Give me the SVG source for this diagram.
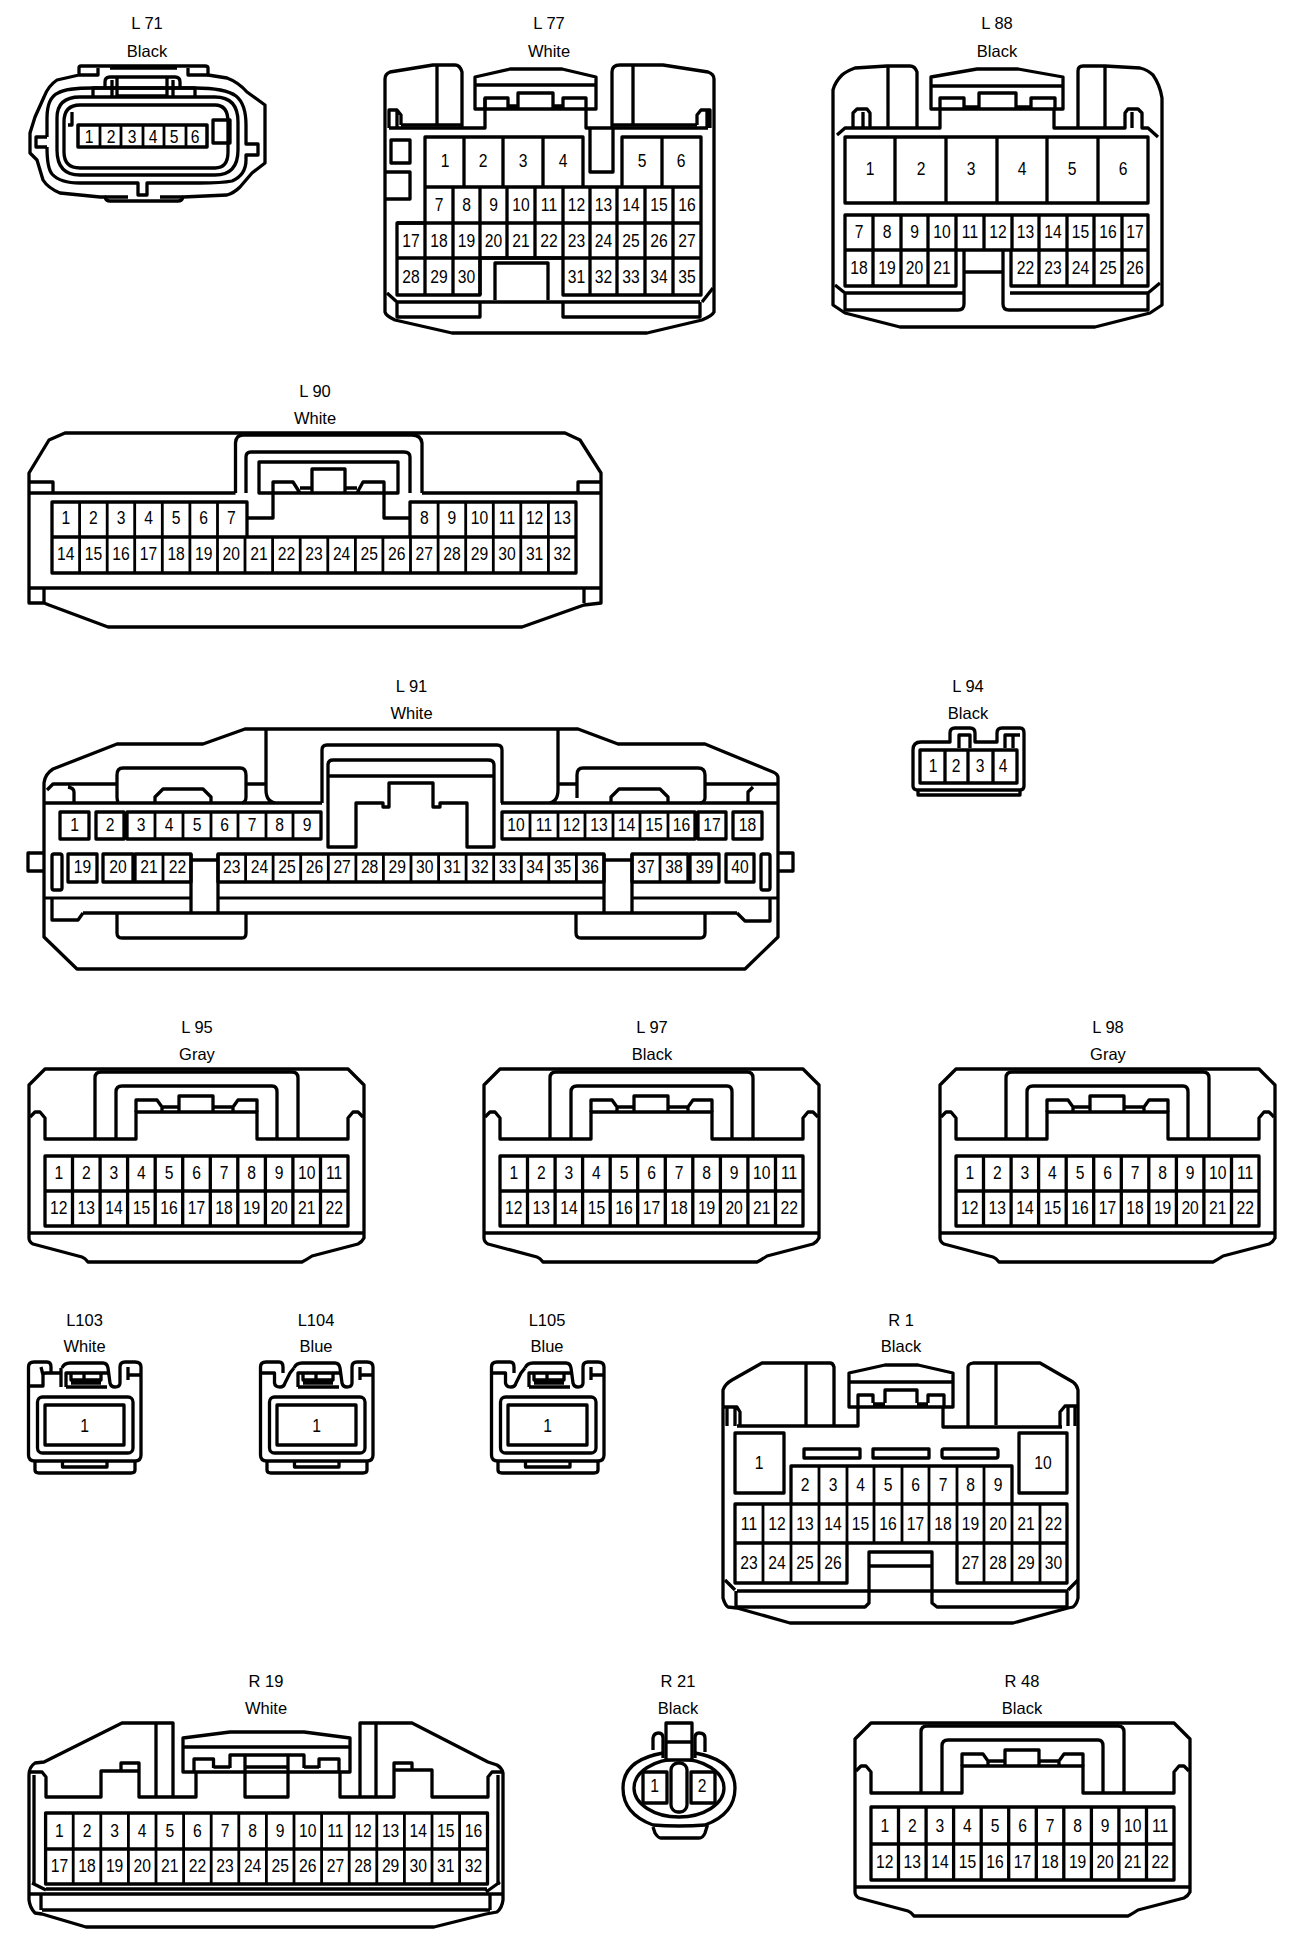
<svg xmlns="http://www.w3.org/2000/svg" width="1312" height="1946" viewBox="0 0 1312 1946">
<style>
.s path,.s rect,.s ellipse,path.s{fill:none;stroke:#000;stroke-width:3.3;stroke-linejoin:round}
.t{stroke-width:2.8 !important}
text{font-family:"Liberation Sans",Arial,sans-serif;fill:#000}
.l text{font-size:16.5px;text-anchor:middle}
.n text{font-size:18px;text-anchor:middle;transform-box:fill-box;transform-origin:center;transform:scaleX(.87)}
</style>
<defs>
<g id="h22" class="s">
<path d="M29 1085V1238Q29 1242 33 1244L82 1257Q85 1258 88 1262H302Q306 1260 312 1256L358 1244Q362 1242 364 1238V1085L348 1069H45Z"/>
<path d="M95 1138V1078Q95 1072 101 1072H292Q298 1072 298 1078V1138M116 1138V1092Q116 1086 122 1086H272Q277 1086 277 1092V1138"/>
<path d="M30 1117L35 1112H40L45 1118V1139H136V1112H257V1139H348V1118L353 1112H358L363 1117"/>
<path d="M136 1112V1100H157L162 1107V1112M162 1107H179M179 1112V1096H213V1112M213 1107H233M233 1112V1107L238 1100H257V1112"/>
<path d="M29 1233H364"/>
</g>
<g id="g22" class="s">
<path d="M45 1156H348V1226H45ZM45 1191H348M72.5 1156V1226M100.1 1156V1226M127.6 1156V1226M155.2 1156V1226M182.7 1156V1226M210.3 1156V1226M237.8 1156V1226M265.4 1156V1226M292.9 1156V1226M320.5 1156V1226"/>
</g>
<g id="tb" class="s">
<path d="M35 1461V1470Q35 1473 39 1473H131Q135 1473 135 1470V1461M62.5 1461V1467H107V1461"/>
<path d="M28.5 1367V1455Q28.5 1461 35 1461H135Q141 1461 141 1455V1367Q141 1362 135 1362H125Q120 1362 120 1367V1383Q120 1387 115 1387Q111 1387 110 1383L108 1368Q107 1363 103 1363H70Q64 1363 62 1368"/>
<path d="M66 1387V1373H108M66 1387H107M71 1373V1380H101V1373M84 1373V1379M71 1383H101"/>
<path d="M128 1367V1380M128 1375H141"/>
<rect x="37.5" y="1397" width="95.5" height="56" rx="5"/>
<rect x="45" y="1405" width="79" height="40"/>
</g>
</defs>

<g id="L71" class="s">
<path d="M79 75V68Q79 66 81 66H205Q208 66 208 68V75L227 78Q238 82 247 92L265 105V163L252 173L240 187Q234 193 227 195L183 197Q182 201 178 201H110Q106 201 105 197L100 197L60 193Q48 188 43 180L37 160L30 153V133L35 117L44 97Q48 86 57 80L79 75"/>
<path d="M105 197H128M160 197H183M98 68V75H79M188 68V75H208M110 68H177"/>
<path d="M47 137H36V147H47M47 137V118Q47 98 58 93Q66 88 93 88H195Q225 88 236 96Q246 104 246 125V144H258V155H246V160Q246 175 232 181Q222 183 200 183H147V195H138V183H80Q60 183 52 174Q47 168 47 147"/>
<path d="M57 118Q57 97 80 97H215Q238 97 238 122V150Q238 175 215 175H80Q57 175 57 150Z"/>
<path d="M64 122Q64 105 80 105H215Q228 105 228 122V152Q228 168 215 168H80Q64 168 64 152Z"/>
<path d="M68 125H72V112"/>
<rect x="213" y="120" width="17" height="23"/>
<path d="M105 87V82Q105 77 110 77H175Q180 77 180 82V87M93 97V88H195V97M117 96V78M112 96V80M167 96V78M173 96V80M117 96H167"/>
<path d="M78 125H207V147H78Z" style="stroke-width:3.5"/>
<path class="t" d="M100 125V147M121 125V147M143 125V147M164 125V147M186 125V147"/>
</g>
<g id="L71t"><g class="l"><text x="147" y="29">L 71</text><text x="147" y="57">Black</text></g>
<g class="n" transform="translate(0,143)"><text x="89">1</text><text x="111">2</text><text x="132">3</text><text x="153">4</text><text x="174">5</text><text x="195">6</text></g></g>

<g id="L77" class="s">
<path d="M462 127V72Q460 65 455 65H433L390 72Q385 74 385 79V312Q386 316 395 320L452 333H647L702 320Q712 316 714 312V79Q714 74 708 72L663 65H620Q612 65 612 72V127"/>
<path d="M437 65V125M633 65V125M401 125H462M612 125H697"/>
<path d="M389 128V110H397L401 115V125M397 110V128M697 125V115L701 110H710V128M707 110V128"/>
<path d="M389 128H485V98M586 108V128H708"/>
<path d="M475 77L510 69H562L596 77V109H475ZM475 85H596M485 108V98H508V108M518 108V93H553V108M563 108V98H586V108M508 106H518M553 106H563"/>
<path d="M590 128V172H613V128"/>
<rect x="391" y="140" width="19" height="23"/>
<path d="M386 172H410V199H386"/>
<path d="M425 137H583V187H425ZM464 137V187M503 137V187M543 137V187M622 187V137H701V295H563V258H480V295H397V223H425V187H701M662 137V187"/>
<path d="M397 223H701M397 258H701M453 187V295M480 187V295M507 187V258M535 187V258M563 187V258M590 187V295M617 187V295M645 187V295M673 187V295M425 223V295"/>
<path d="M495 300V263H548V300M397 302H700M397 302V317H480V302M563 302V317H700V302M387 293L397 302M702 302L713 288"/>
</g>
<g id="L77t"><g class="l"><text x="549" y="29">L 77</text><text x="549" y="57">White</text></g>
<g class="n" transform="translate(0,167)"><text x="445">1</text><text x="483">2</text><text x="523">3</text><text x="563">4</text><text x="642">5</text><text x="681">6</text></g>
<g class="n" transform="translate(0,211)"><text x="439">7</text><text x="466.5">8</text><text x="493.5">9</text><text x="521">10</text><text x="549">11</text><text x="576.5">12</text><text x="603.5">13</text><text x="631">14</text><text x="659">15</text><text x="687">16</text></g>
<g class="n" transform="translate(0,247)"><text x="411">17</text><text x="439">18</text><text x="466.5">19</text><text x="493.5">20</text><text x="521">21</text><text x="549">22</text><text x="576.5">23</text><text x="603.5">24</text><text x="631">25</text><text x="659">26</text><text x="687">27</text></g>
<g class="n" transform="translate(0,283)"><text x="411">28</text><text x="439">29</text><text x="466.5">30</text><text x="576.5">31</text><text x="603.5">32</text><text x="631">33</text><text x="659">34</text><text x="687">35</text></g></g>

<g id="L88" class="s">
<path d="M917 128V72Q915 66 910 66H887L855 68Q845 72 842 75Q835 82 833 90V305L845 313L900 327H1095L1150 313L1162 305V98Q1160 85 1153 75Q1148 70 1140 68L1105 66H1083Q1078 66 1078 71V128"/>
<path d="M888 66V128M1105 66V128M837 135L845 128H853V113L857 109H867L870 113V128M863 112V128M845 128H940V108M1054 108V128H1125V113L1128 109H1138L1142 113V128H1148L1158 137M1132 112V128"/>
<path d="M931 77L977 69H1018L1063 77V109H931ZM931 86H1063M940 108V98H964V108M979 108V93H1016V108M1031 108V98H1055V108M964 107H979M1016 107H1031"/>
<path d="M845 137H1148V203H845ZM895 137V203M946 137V203M997 137V203M1047 137V203M1098 137V203"/>
<path d="M845 215H1148V250H845ZM873 215V286M901 215V286M928 215V286M956 215V250M984 215V250M1012 215V250M1039 215V286M1067 215V286M1094 215V286M1122 215V286M845 250V286H956V250M1011 250V286H1148V250"/>
<path d="M964 250V304Q964 310 958 310H845V293M1003 250V304Q1003 310 1009 310H1148V293M964 272H1003M845 293H963M1010 293H1148M835 285L845 293M1148 293L1160 283"/>
</g>
<g id="L88t"><g class="l"><text x="997" y="29">L 88</text><text x="997" y="57">Black</text></g>
<g class="n" transform="translate(0,175)"><text x="870">1</text><text x="921">2</text><text x="971">3</text><text x="1022">4</text><text x="1072">5</text><text x="1123">6</text></g>
<g class="n" transform="translate(0,238)"><text x="859">7</text><text x="887">8</text><text x="914.5">9</text><text x="942">10</text><text x="970">11</text><text x="998">12</text><text x="1025.5">13</text><text x="1053">14</text><text x="1080.5">15</text><text x="1108">16</text><text x="1135">17</text></g>
<g class="n" transform="translate(0,274)"><text x="859">18</text><text x="887">19</text><text x="914.5">20</text><text x="942">21</text><text x="1025.5">22</text><text x="1053">23</text><text x="1080.5">24</text><text x="1108">25</text><text x="1135">26</text></g></g>

<g id="L90" class="s">
<path d="M29 473V603H44L49 605L108 627H522L584 605L601 603V473L580 440L565 433H65L49 440Z"/>
<path d="M29 493H235.5M422 493H601M29 482H53V493M601 482H578V493M29 588H601M44 588V603M584 588V603"/>
<path d="M235.5 493V443Q236 435 243 435H412Q421 435 422 443V493M246 493V457Q246 452 251 452H404Q410 452 410 457V493"/>
<path d="M259 462H398V493H259ZM312 493V469H345V493M273 493V482H293L300 493M300 488H312M345 488H357M357 493L363 482H384V493"/>
<path d="M273 493V518H247M384 493V518H410"/>
<path d="M52 502H247V537H52ZM52 537V573H576V502H410V537M52 537H576"/>
<path class="t" d="M79.6 502V573M107.2 502V573M134.7 502V573M162.3 502V573M189.9 502V573M217.5 502V573M245 537V573M272.6 537V573M300.2 537V573M327.8 537V573M355.4 537V573M382.9 537V573M410.5 537V573M438.1 502V573M465.7 502V573M493.3 502V573M520.8 502V573M548.4 502V573"/>
</g>
<g id="L90t"><g class="l"><text x="315" y="397">L 90</text><text x="315" y="424">White</text></g>
<g class="n" transform="translate(0,524)"><text x="65.8">1</text><text x="93.4">2</text><text x="121">3</text><text x="148.5">4</text><text x="176.1">5</text><text x="203.7">6</text><text x="231.3">7</text><text x="424.3">8</text><text x="451.9">9</text><text x="479.5">10</text><text x="507">11</text><text x="534.6">12</text><text x="562.2">13</text></g>
<g class="n" transform="translate(0,560)"><text x="65.8">14</text><text x="93.4">15</text><text x="121">16</text><text x="148.5">17</text><text x="176.1">18</text><text x="203.7">19</text><text x="231.3">20</text><text x="258.9">21</text><text x="286.4">22</text><text x="314">23</text><text x="341.6">24</text><text x="369.2">25</text><text x="396.7">26</text><text x="424.3">27</text><text x="451.9">28</text><text x="479.5">29</text><text x="507">30</text><text x="534.6">31</text><text x="562.2">32</text></g></g>

<g id="L91" class="s">
<path d="M44 783V937L77 969H745L778 937V778Q778 774 773 772L705 744H618L578 729H245L203 744H117L53 769Q45 774 44 783Z"/>
<path d="M266 729V790Q266 803 278 803M558 729V790Q558 803 547 803M44 803H322M501 803H778"/>
<path d="M322 803V750Q322 745 327 745H497Q502 745 502 750V803"/>
<path d="M328 847V765Q328 760 333 760H488Q494 760 494 765V847H467V803H440V807H433V783H389V807H383V803H356V847ZM328 776H493"/>
<path d="M118 802Q117 800 117 797V775Q117 768 123 768H240Q246 768 246 775V797Q246 802 242 803M155 803V797L163 789H203L211 797V803M47 790L53 784H117M68 787Q74 788 74 792V803M246 784H266"/>
<path d="M577 798V775Q577 768 583 768H698Q705 768 705 775V798Q705 802 700 803M611 803V797L619 789H660L668 797V803M558 784H577M705 784H777M748 803V792L753 787"/>
<path d="M60 812H89V839H60ZM96 812H124V839H96ZM127 812H321V839H127ZM502 812H695V839H502ZM698 812H726V839H698ZM733 812H762V839H733Z"/>
<path class="t" d="M155 812V839M183 812V839M211 812V839M238 812V839M266 812V839M293 812V839M530 812V839M558 812V839M585 812V839M613 812V839M640 812V839M668 812V839"/>
<path d="M68 854H97V882H68ZM103 854H133V882H103ZM135 854H191V882H135ZM218 854H604V882H218ZM632 854H688V882H632ZM690 854H719V882H690ZM726 854H754V882H726Z"/>
<path class="t" d="M163 854V882M245.6 854V882M273.1 854V882M300.7 854V882M328.3 854V882M355.9 854V882M383.4 854V882M411 854V882M438.6 854V882M466.1 854V882M493.7 854V882M521.3 854V882M548.8 854V882M576.4 854V882M660 854V882"/>
<rect x="52" y="854" width="10" height="36" rx="2"/>
<rect x="761" y="854" width="9" height="36" rx="2"/>
<path d="M44 853H28V871H44M778 853H793V871H778"/>
<path class="t" d="M44 898H191M218 898H604M632 898H778"/>
<path d="M83 913H737M52 898V920H78L83 913M770 898V921H745L737 913M191 854V913M218 854V913M192 860H217M604 854V913M632 854V913M604 860H632"/>
<path d="M117 913V933Q117 938 122 938H242Q246 938 246 933V913M576 913V933Q576 938 581 938H700Q705 938 705 933V913"/>
</g>
<g id="L91t"><g class="l"><text x="411.5" y="692">L 91</text><text x="411.5" y="719">White</text></g>
<g class="n" transform="translate(0,831)"><text x="74.5">1</text><text x="110">2</text><text x="141">3</text><text x="169">4</text><text x="197">5</text><text x="224.5">6</text><text x="252">7</text><text x="279.5">8</text><text x="307">9</text><text x="516">10</text><text x="544">11</text><text x="571.5">12</text><text x="599">13</text><text x="626.5">14</text><text x="654">15</text><text x="681.5">16</text><text x="712">17</text><text x="747.5">18</text></g>
<g class="n" transform="translate(0,873)"><text x="82.5">19</text><text x="118">20</text><text x="149">21</text><text x="177.5">22</text><text x="231.8">23</text><text x="259.4">24</text><text x="286.9">25</text><text x="314.5">26</text><text x="342.1">27</text><text x="369.6">28</text><text x="397.2">29</text><text x="424.8">30</text><text x="452.3">31</text><text x="479.9">32</text><text x="507.5">33</text><text x="535">34</text><text x="562.6">35</text><text x="590.2">36</text><text x="646">37</text><text x="674">38</text><text x="704.5">39</text><text x="740">40</text></g></g>

<g id="L94" class="s">
<path d="M913 750Q913 742 921 742H950V733Q950 728 955 728H970Q975 728 975 733V742H997V733Q997 728 1002 728H1020Q1024 728 1024 733V786Q1024 790 1020 790H918Q913 790 913 786Z"/>
<path d="M918 790V795H1020V790"/>
<path d="M920 750H1017V783H920ZM945 750V783M968 750V783M993 750V783"/>
<path d="M959 748V735H970V748M1005 748V735H1020M1013 735V748"/>
</g>
<g id="L94t"><g class="l"><text x="968" y="692">L 94</text><text x="968" y="719">Black</text></g>
<g class="n" transform="translate(0,772)"><text x="933">1</text><text x="956">2</text><text x="980">3</text><text x="1003">4</text></g></g>

<g id="L95"><use href="#h22"/><use href="#g22"/><g class="l"><text x="197" y="1033">L 95</text><text x="197" y="1060">Gray</text></g>
<g class="n" transform="translate(0,1179)"><text x="58.8">1</text><text x="86.3">2</text><text x="113.9">3</text><text x="141.4">4</text><text x="169">5</text><text x="196.5">6</text><text x="224">7</text><text x="251.6">8</text><text x="279.1">9</text><text x="306.7">10</text><text x="334.2">11</text></g>
<g class="n" transform="translate(0,1214)"><text x="58.8">12</text><text x="86.3">13</text><text x="113.9">14</text><text x="141.4">15</text><text x="169">16</text><text x="196.5">17</text><text x="224">18</text><text x="251.6">19</text><text x="279.1">20</text><text x="306.7">21</text><text x="334.2">22</text></g></g>

<g id="L97"><use href="#h22" x="455"/><use href="#g22" x="455"/><g class="l"><text x="652" y="1033">L 97</text><text x="652" y="1060">Black</text></g>
<g class="n" transform="translate(455,1179)"><text x="58.8">1</text><text x="86.3">2</text><text x="113.9">3</text><text x="141.4">4</text><text x="169">5</text><text x="196.5">6</text><text x="224">7</text><text x="251.6">8</text><text x="279.1">9</text><text x="306.7">10</text><text x="334.2">11</text></g>
<g class="n" transform="translate(455,1214)"><text x="58.8">12</text><text x="86.3">13</text><text x="113.9">14</text><text x="141.4">15</text><text x="169">16</text><text x="196.5">17</text><text x="224">18</text><text x="251.6">19</text><text x="279.1">20</text><text x="306.7">21</text><text x="334.2">22</text></g></g>

<g id="L98"><use href="#h22" x="911"/><use href="#g22" x="911"/><g class="l"><text x="1108" y="1033">L 98</text><text x="1108" y="1060">Gray</text></g>
<g class="n" transform="translate(911,1179)"><text x="58.8">1</text><text x="86.3">2</text><text x="113.9">3</text><text x="141.4">4</text><text x="169">5</text><text x="196.5">6</text><text x="224">7</text><text x="251.6">8</text><text x="279.1">9</text><text x="306.7">10</text><text x="334.2">11</text></g>
<g class="n" transform="translate(911,1214)"><text x="58.8">12</text><text x="86.3">13</text><text x="113.9">14</text><text x="141.4">15</text><text x="169">16</text><text x="196.5">17</text><text x="224">18</text><text x="251.6">19</text><text x="279.1">20</text><text x="306.7">21</text><text x="334.2">22</text></g></g>

<g id="L103"><use href="#tb"/><g class="s"><path d="M28.5 1386H43V1375Q43 1373 46 1373H61M61 1368V1387M28.5 1367Q28.5 1362 34 1362H47Q51 1362 51 1367V1373M41 1367L43 1375"/></g><g class="l"><text x="84.5" y="1326">L103</text><text x="84.5" y="1352">White</text></g>
<g class="n" transform="translate(0,1432)"><text x="84.5">1</text></g></g>

<g id="L104"><use href="#tb" x="232"/><g class="s" transform="translate(232,0)"><path d="M28.5 1373H42.5V1383Q43 1387 48 1387Q52 1387 53 1383L58 1373L62 1368M28.5 1367Q28.5 1362 34 1362H47Q51 1362 51 1367V1373"/></g><g class="l"><text x="316" y="1326">L104</text><text x="316" y="1352">Blue</text></g>
<g class="n" transform="translate(232,1432)"><text x="84.5">1</text></g></g>

<g id="L105"><use href="#tb" x="463"/><g class="s" transform="translate(463,0)"><path d="M28.5 1373H42.5V1383Q43 1387 48 1387Q52 1387 53 1383L58 1373L62 1368M28.5 1367Q28.5 1362 34 1362H47Q51 1362 51 1367V1373"/></g><g class="l"><text x="547" y="1326">L105</text><text x="547" y="1352">Blue</text></g>
<g class="n" transform="translate(463,1432)"><text x="84.5">1</text></g></g>

<g id="R1" class="s">
<path d="M834 1427V1367Q833 1363 830 1363H762L732 1380Q725 1384 723 1390V1598Q725 1605 728 1607L737 1608L790 1623H1013L1068 1608L1073 1607Q1077 1604 1078 1598V1390Q1077 1385 1073 1382L1040 1363H973Q968 1364 968 1367V1427"/>
<path d="M806 1363V1425M996 1363V1425M737 1426H858V1407M943 1407V1427H1062"/>
<path d="M723 1407H737L740 1412V1426M727 1407V1426M735 1407V1426M1060 1426V1412L1065 1406H1077M1068 1406V1426M1075 1406V1426"/>
<path d="M849 1373L885 1365H918L953 1373V1407H849ZM849 1382H953M858 1407V1395H873V1403M885 1403V1390H917V1403M928 1403V1395H944V1407M873 1404H885M917 1404H928"/>
<rect x="735" y="1433" width="49" height="60"/>
<rect x="1019" y="1433" width="48" height="60"/>
<rect x="804" y="1449" width="56" height="9"/>
<rect x="873" y="1449" width="56" height="9"/>
<rect x="942" y="1449" width="56" height="9" rx="2"/>
<path d="M791 1504V1466H1012V1504M735 1504H1067V1543H735ZM735 1543V1583H847V1543M957 1543V1583H1067V1543"/>
<path class="t" d="M819 1466V1583M847 1466V1543M874 1466V1543M902 1466V1543M929 1466V1543M957 1466V1543M984 1466V1583M791 1504V1583M763 1504V1583M1012 1504V1583M1040 1504V1583"/>
<path d="M869 1595V1552H932V1595M869 1566H932M737 1591H1068M736 1591V1607H865L869 1603V1595M932 1595V1603L937 1607H1067V1591M725 1580L735 1590M1068 1590L1078 1580"/>
</g>
<g id="R1t"><g class="l"><text x="901" y="1326">R 1</text><text x="901" y="1352">Black</text></g>
<g class="n" transform="translate(0,1469)"><text x="759">1</text><text x="1043">10</text></g>
<g class="n" transform="translate(0,1491)"><text x="805">2</text><text x="833">3</text><text x="860.5">4</text><text x="888">5</text><text x="915.5">6</text><text x="943">7</text><text x="970.5">8</text><text x="998">9</text></g>
<g class="n" transform="translate(0,1530)"><text x="749">11</text><text x="777">12</text><text x="805">13</text><text x="833">14</text><text x="860.5">15</text><text x="888">16</text><text x="915.5">17</text><text x="943">18</text><text x="970.5">19</text><text x="998">20</text><text x="1026">21</text><text x="1053.5">22</text></g>
<g class="n" transform="translate(0,1569)"><text x="749">23</text><text x="777">24</text><text x="805">25</text><text x="833">26</text><text x="970.5">27</text><text x="998">28</text><text x="1026">29</text><text x="1053.5">30</text></g></g>

<g id="R19" class="s">
<path d="M173 1798V1723H122L44 1762L35 1763Q29 1767 29 1775V1900Q30 1908 35 1913L42 1914L86 1927H434L486 1914L497 1912Q502 1908 503 1900V1773Q502 1768 497 1765L488 1762L412 1723H360V1798"/>
<path d="M156 1723V1797M376 1723V1797"/>
<path d="M29 1772H42L46 1777V1797H101V1771H139M121 1771V1763H139V1797H196V1772M340 1772V1797H394V1763H412V1770H432V1797H488V1777L492 1772H503M394 1770H412M34 1775V1885M498 1775V1885"/>
<path d="M183 1738L230 1732H304L350 1738V1772H183ZM183 1747H350M194 1772V1759H213.5V1768M230 1768V1755H304V1768M319 1768V1759H339V1772M213.5 1767H230M304 1767H319M245 1755V1797H288V1755M245 1767H288"/>
<path d="M45.6 1813H487.5V1884H45.6ZM45.6 1849H487.5"/>
<path class="t" d="M73.2 1813V1884M100.8 1813V1884M128.4 1813V1884M156 1813V1884M183.6 1813V1884M211.2 1813V1884M238.8 1813V1884M266.4 1813V1884M294 1813V1884M321.6 1813V1884M349.2 1813V1884M376.8 1813V1884M404.4 1813V1884M432 1813V1884M459.6 1813V1884"/>
<path d="M46 1889H487M29 1894H503M42 1910H490M41 1894V1910M490 1894V1910M32 1883L46 1890M486 1892L500 1882"/>
</g>
<g id="R19t"><g class="l"><text x="266" y="1687">R 19</text><text x="266" y="1714">White</text></g>
<g class="n" transform="translate(0,1837)"><text x="59.4">1</text><text x="87">2</text><text x="114.6">3</text><text x="142.2">4</text><text x="169.8">5</text><text x="197.4">6</text><text x="225">7</text><text x="252.6">8</text><text x="280.2">9</text><text x="307.8">10</text><text x="335.4">11</text><text x="363">12</text><text x="390.6">13</text><text x="418.2">14</text><text x="445.8">15</text><text x="473.4">16</text></g>
<g class="n" transform="translate(0,1872)"><text x="59.4">17</text><text x="87">18</text><text x="114.6">19</text><text x="142.2">20</text><text x="169.8">21</text><text x="197.4">22</text><text x="225">23</text><text x="252.6">24</text><text x="280.2">25</text><text x="307.8">26</text><text x="335.4">27</text><text x="363">28</text><text x="390.6">29</text><text x="418.2">30</text><text x="445.8">31</text><text x="473.4">32</text></g></g>

<g id="R21" class="s">
<path d="M663 1753Q623 1760 623 1788Q623 1814 653 1825Q665 1826 679 1826Q693 1826 705 1825Q735 1814 735 1788Q735 1760 695 1753"/>
<ellipse cx="679" cy="1788" rx="45" ry="29"/>
<rect x="643" y="1772" width="24" height="31"/>
<rect x="691" y="1772" width="24" height="31"/>
<rect x="671" y="1763" width="16" height="49" rx="7" style="fill:#fff"/>
<rect x="666" y="1723" width="26" height="37" style="fill:#fff"/>
<path d="M666 1742H692M653 1750V1738Q654 1733 658.5 1733Q663 1733 663 1738V1758M695 1758V1738Q695 1733 699 1733Q705 1733 705 1738V1752M653 1827L655 1833Q658 1838 661 1838H699Q703 1838 705 1833L707.5 1825"/>
</g>
<g id="R21t"><g class="l"><text x="678" y="1687">R 21</text><text x="678" y="1714">Black</text></g>
<g class="n" transform="translate(0,1792)"><text x="654.5">1</text><text x="702">2</text></g></g>

<g id="R48"><use href="#h22" x="826" y="654"/>
<g class="s"><path d="M871 1807H1174V1880H871ZM871 1844H1174M898.5 1807V1880M926.1 1807V1880M953.6 1807V1880M981.2 1807V1880M1008.7 1807V1880M1036.3 1807V1880M1063.8 1807V1880M1091.4 1807V1880M1118.9 1807V1880M1146.5 1807V1880"/></g>
<g class="l"><text x="1022" y="1687">R 48</text><text x="1022" y="1714">Black</text></g>
<g class="n" transform="translate(0,1832)"><text x="884.8">1</text><text x="912.3">2</text><text x="939.9">3</text><text x="967.4">4</text><text x="995">5</text><text x="1022.5">6</text><text x="1050">7</text><text x="1077.6">8</text><text x="1105.1">9</text><text x="1132.7">10</text><text x="1160.2">11</text></g>
<g class="n" transform="translate(0,1868)"><text x="884.8">12</text><text x="912.3">13</text><text x="939.9">14</text><text x="967.4">15</text><text x="995">16</text><text x="1022.5">17</text><text x="1050">18</text><text x="1077.6">19</text><text x="1105.1">20</text><text x="1132.7">21</text><text x="1160.2">22</text></g></g>
</svg>
